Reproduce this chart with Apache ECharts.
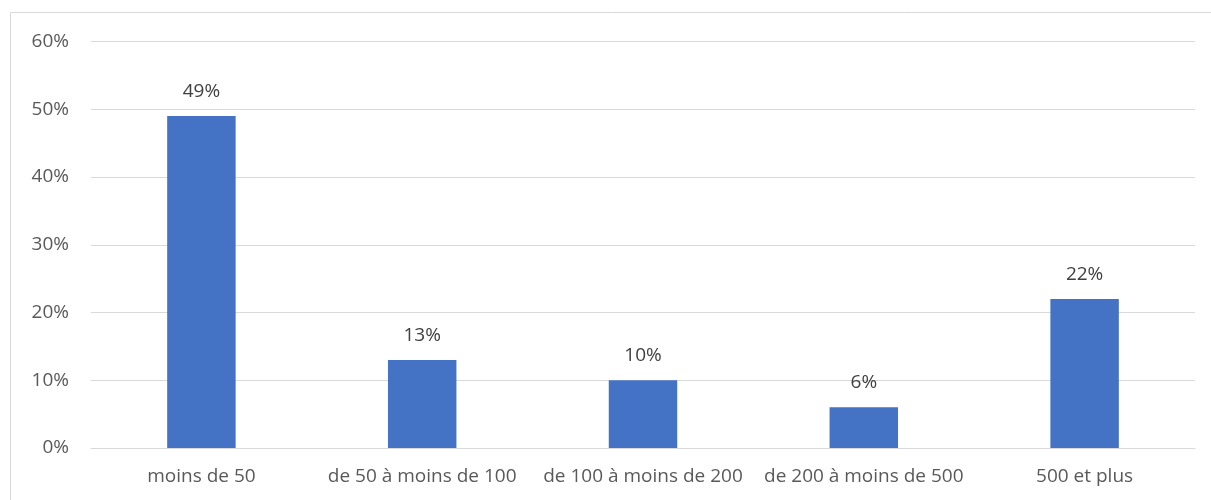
<!DOCTYPE html>
<html><head><meta charset="utf-8">
<script src="https://cdn.jsdelivr.net/npm/echarts@6/dist/echarts.min.js"></script>
<style>html,body{margin:0;padding:0;background:#fff}#c{width:1211px;height:500px}</style>
</head><body><div id="c"></div>
<script>
const categories = ["moins de 50", "de 50 à moins de 100", "de 100 à moins de 200", "de 200 à moins de 500", "500 et plus"];
const values = [49, 13, 10, 6, 22];
const yTicks = [0, 10, 20, 30, 40, 50, 60];

const chart = echarts.init(document.getElementById('c'), null, {renderer: 'canvas'});
const font = '"Open Sans", "Liberation Sans", sans-serif';
chart.setOption({
  animation: false,
  backgroundColor: '#fff',
  graphic: [{type: 'rect', shape: {x: 10.5, y: 12.5, width: 1300, height: 600}, style: {fill: 'none', stroke: '#d9d9d9', lineWidth: 1}, silent: true}],
  grid: {left: 91, right: 16, top: 41.5, bottom: 52, containLabel: false},
  xAxis: {
    type: 'category', data: categories,
    axisLine: {lineStyle: {color: '#d9d9d9', width: 1}},
    axisTick: {show: false},
    axisLabel: {color: '#595959', fontSize: 19, fontFamily: font, margin: 19, interval: 0}
  },
  yAxis: {
    type: 'value', min: yTicks[0], max: yTicks[yTicks.length - 1], interval: 10,
    axisLine: {show: false}, axisTick: {show: false},
    splitLine: {lineStyle: {color: '#d9d9d9', width: 1}},
    axisLabel: {color: '#595959', fontSize: 19, fontFamily: font, margin: 22, formatter: v => v + '%'}
  },
  series: [{
    type: 'bar', data: values, barWidth: '31%',
    itemStyle: {color: '#4472C4'},
    label: {show: true, position: 'top', distance: 15, color: '#404040', fontSize: 19, fontFamily: font, formatter: p => p.value + '%'}
  }]
});
</script></body></html>
